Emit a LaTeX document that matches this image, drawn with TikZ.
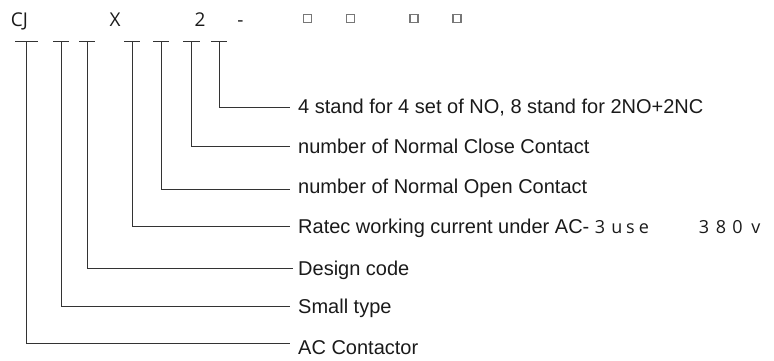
\documentclass[tikz,border=0pt]{standalone}
\usepackage{fontspec}
\setmainfont{Liberation Sans}
\newfontfamily\osans{Open Sans}
\definecolor{ln}{HTML}{333333}
\definecolor{tx}{HTML}{1a1a1a}
\definecolor{bx}{HTML}{777777}
\begin{document}
\begin{tikzpicture}[x=1pt,y=-1pt,
  lbl/.style={anchor=base west,inner sep=0pt,text=tx,font=\fontsize{20}{22}\selectfont},
  code/.style={anchor=base,inner sep=0pt,text=tx,font=\osans\fontsize{19}{21}\selectfont},
  sq/.style={draw=bx,line width=1.1pt,minimum size=8pt,inner sep=0pt},
  spc/.style={anchor=base,inner sep=0pt,text=tx,font=\osans\fontsize{18}{20}\selectfont},
  conn/.style={draw=ln,line width=0.8pt}]
\useasboundingbox (0,0) rectangle (774,360);
% top code row
\node[code] (cj) at (19.5,26) {CJ};
\node[code] (xx) at (115,26) {X};
\node[code] (two) at (200,26) {2};
\node[code] (dash) at (240.5,26) {-};
\node[sq] (s1) at (307.5,18.5) {};
\node[sq] (s2) at (350.5,18.5) {};
\node[sq] (s3) at (414,18.5) {};
\node[sq] (s4) at (457,18.5) {};
% T bars
\foreach \n/\a/\b/\v in {t1/15/38/26.7, t2/53/69/61.3, t3/79/95/87.3, t4/124/140/132, t5/153/169/161, t6/183/200/191.7, t7/211/227/219.3}{
  \draw[conn] (\a,41) -- (\b,41);
  \coordinate (\n) at (\v,41);
}
% labels
\node[lbl] (l7) at (298,113.5) {4 stand for 4 set of NO, 8 stand for 2NO+2NC};
\node[lbl] (l6) at (298,153.5) {number of Normal Close Contact};
\node[lbl] (l5) at (298,193.5) {number of Normal Open Contact};
\node[lbl] (l4) at (298,233.5) {Ratec working current under AC-};
\node[spc] (g1) at (600,233.5) {3};
\node[spc] (g2) at (617,233.5) {u};
\node[spc] (g3) at (630.5,233.5) {s};
\node[spc] (g4) at (644,233.5) {e};
\node[spc] (g5) at (704,233.5) {3};
\node[spc] (g6) at (721,233.5) {8};
\node[spc] (g7) at (737.5,233.5) {0};
\node[spc] (g8) at (756,233.5) {v};
\node[lbl] (l3) at (298,275) {Design code};
\node[lbl] (l2) at (298,313) {Small type};
\node[lbl] (l1) at (298,354) {AC Contactor};
% connectors
\coordinate (e7) at (290,107);
\coordinate (e6) at (290,146.7);
\coordinate (e5) at (290,189.3);
\coordinate (e4) at (290,226);
\coordinate (e3) at (293,268.3);
\coordinate (e2) at (290,306);
\coordinate (e1) at (290,343.3);
\draw[conn] (t7) |- (e7);
\draw[conn] (t6) |- (e6);
\draw[conn] (t5) |- (e5);
\draw[conn] (t4) |- (e4);
\draw[conn] (t3) |- (e3);
\draw[conn] (t2) |- (e2);
\draw[conn] (t1) |- (e1);
\end{tikzpicture}
\end{document}
